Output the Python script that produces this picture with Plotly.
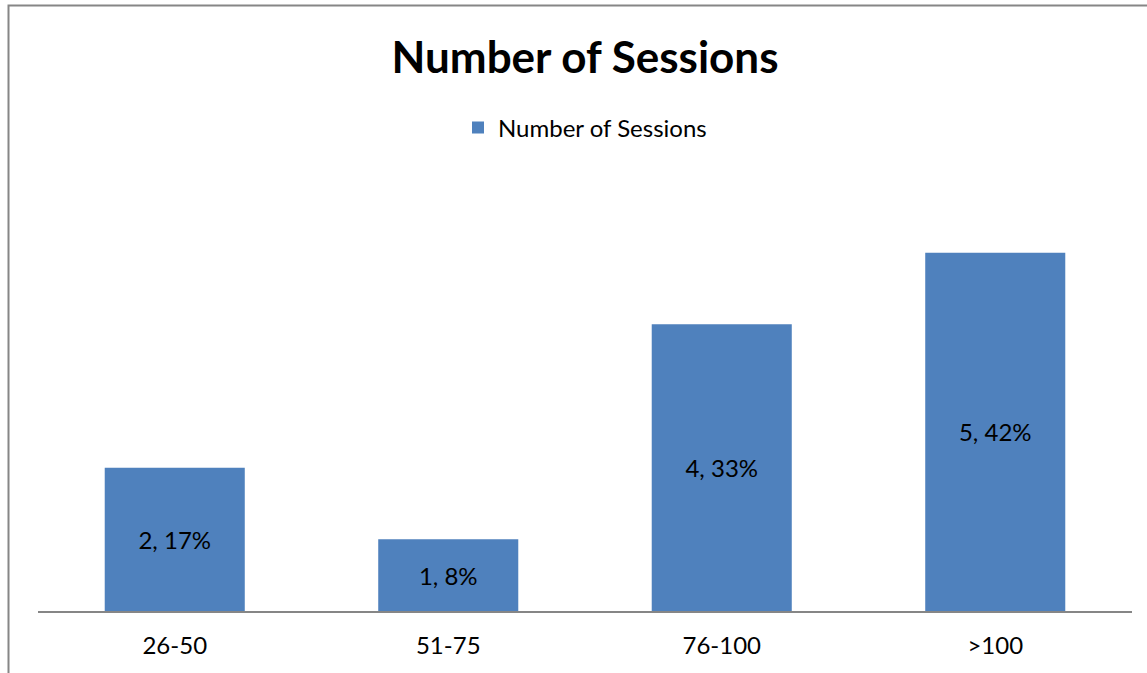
import plotly.graph_objects as go

categories = ["26-50", "51-75", "76-100", ">100"]
sessions = [2, 1, 4, 5]
percent_labels = ["17%", "8%", "33%", "42%"]
series_name = "Number of Sessions"
title_text = "Number of Sessions"

labels = [f"{v}, {p}" for v, p in zip(sessions, percent_labels)]

FONT = "Lato, Carlito, Calibri, sans-serif"
W, H = 1147, 673
L, R, T, B = 38, 15, 181, 62
pw, ph = W - L - R, H - T - B

def px_to_paper_x(x):
    return (x - L) / pw

def px_to_paper_y(y):
    return (H - B - y) / ph

fig = go.Figure()
fig.add_trace(go.Bar(
    x=categories, y=sessions, name=series_name,
    marker=dict(color="#4F81BD", line=dict(width=0)),
    text=labels, textposition="inside", insidetextanchor="middle",
    textangle=0,
    textfont=dict(family=FONT, size=24, color="#000000"),
    showlegend=True,
))

fig.update_layout(
    width=W, height=H,
    margin=dict(l=L, r=R, t=T, b=B),
    paper_bgcolor="white", plot_bgcolor="white",
    bargap=0.488,
    title=dict(text="<b>" + title_text + "</b>", x=0.5, xref="paper", xanchor="center",
               y=1 - 58 / H, yanchor="middle",
               font=dict(family=FONT, size=44, color="#000000")),
    legend=dict(orientation="h", x=0.5, xanchor="center", xref="paper",
                y=px_to_paper_y(128), yanchor="middle",
                font=dict(family=FONT, size=24, color="#000000"),
                itemwidth=30, bgcolor="rgba(0,0,0,0)"),
    xaxis=dict(showline=True, linecolor="#868686", linewidth=2, ticks="",
               tickfont=dict(family=FONT, size=24, color="#000000"),
               showgrid=False, zeroline=False, ticklabelstandoff=12),
    yaxis=dict(range=[0, 6], visible=False, showgrid=False, zeroline=False),
    uniformtext=dict(mode=False),
    shapes=[dict(type="rect", xref="paper", yref="paper",
                 x0=px_to_paper_x(8.5), x1=px_to_paper_x(1160),
                 y0=px_to_paper_y(690), y1=px_to_paper_y(5.5),
                 line=dict(color="#868686", width=2), fillcolor="rgba(0,0,0,0)",
                 layer="below")],
)

fig.write_html("out.html")
